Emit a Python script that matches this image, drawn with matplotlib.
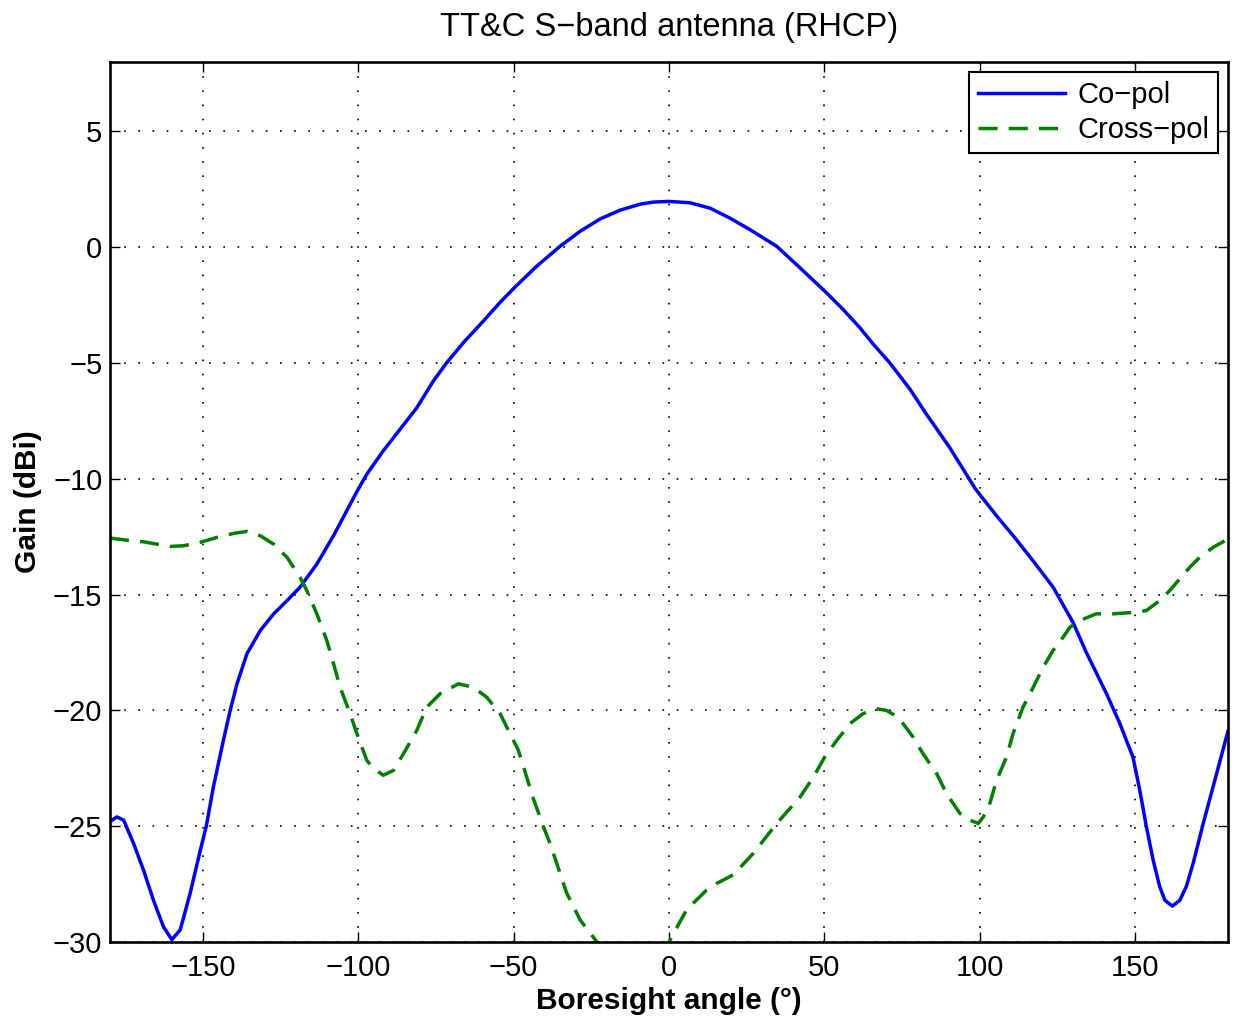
import matplotlib
matplotlib.use("Agg")
import matplotlib.pyplot as plt

# --------------------------------------------------------
# Data
# --------------------------------------------------------

co_angle = [-180, -177.8, -175.6, -172.4, -169.2, -166, -162.8, -160.1, -157.4,
            -154.2, -150.9, -149, -146.7, -143.5, -141.3, -139.1, -135.9,
            -131.6, -127.3, -123, -118.8, -113.4, -108, -100.5, -97.3, -92,
            -86.6, -81.2, -75.9, -71.6, -66.2, -59.8, -54.4, -49.6, -42.6,
            -35.1, -28.6, -22.2, -15.8, -9.3, -5.1, 0, 6.8, 13.2, 19.6, 26.1,
            34.7, 42.2, 50.2, 56.1, 61.5, 65.8, 71.1, 77.6, 82.9, 90.4, 98.5,
            100.5, 105.5, 110.8, 117.3, 123.7, 130.1, 134.4, 140.9, 145.2,
            147.3, 149.4, 151.6, 153.7, 155.9, 158, 159.7, 162.1, 164.5,
            166.6, 168.8, 172, 175.2, 180]
co_gain = [-24.8, -24.6, -24.74, -25.75, -26.9, -28.2, -29.34, -29.9, -29.48,
           -27.9, -26.03, -25.0, -23.3, -21.3, -20.0, -18.85, -17.55,
           -16.55, -15.83, -15.26, -14.68, -13.68, -12.45, -10.55, -9.8, -8.79,
           -7.86, -6.93, -5.78, -4.99, -4.12, -3.19, -2.38, -1.72, -0.82,
           0.04, 0.69, 1.22, 1.6, 1.86, 1.95, 1.98, 1.92, 1.69, 1.26, 0.76,
           0.04, -0.89, -1.9, -2.69, -3.48, -4.19, -4.99, -6.13, -7.21, -8.65, -10.4,
           -10.75, -11.6, -12.45, -13.55, -14.68, -16.2, -17.5, -19.28, -20.57,
           -21.3, -22.01, -23.45, -25.0, -26.46, -27.6, -28.2, -28.45, -28.2,
           -27.6, -26.6, -24.9, -23.3, -20.9]

x_angle = [-180, -174.5, -169.2, -160.6, -156.3, -150.9, -145.6, -140, -135.9,
           -131.6, -127.3, -123, -118.8, -116.6, -113.4, -110.2, -108, -105.9,
           -102.7, -100.5, -97.3, -95.2, -92, -88.7, -85.5, -81.2, -78, -73.7,
           -67.8, -63, -58.7, -54.4, -48.5, -43.7, -40.5, -38.3, -32.9, -28.6,
           -23.3, -17, -10, -4, 0, 5.7, 12.1, 15.4, 20.7, 27.1, 34.7, 42.2,
           46.4, 50.2, 54, 58.3, 62.5, 66.8, 70, 73.8, 78.6, 81.8, 86.2, 89.4,
           93.7, 96.9, 99.6, 101.2, 103.3, 105.5, 108.7, 110.8, 114.0, 117.3,
           120.5, 123.7, 126.9, 129.1, 132.3, 137.6, 143, 150.5, 153.7, 158,
           161.2, 164.5, 167.7, 170.9, 175.2, 180]
x_gain = [-12.56, -12.65, -12.72, -12.92, -12.89, -12.74, -12.53, -12.35, -12.27,
          -12.46, -12.82, -13.39, -14.25, -14.83, -15.83, -16.98, -17.99, -19.0,
          -20.14, -21.0, -22.16, -22.5, -22.8, -22.59, -21.87, -20.86, -19.86, -19.28,
          -18.85, -19.0, -19.43, -20.14, -21.72, -23.8, -25.0, -25.75, -27.9, -29.05,
          -29.98, -30.8, -31.3, -30.9, -30.0, -28.6, -27.76, -27.47, -27.1, -26.18,
          -24.88, -23.74, -22.9, -22.0, -21.3, -20.57, -20.14, -19.93, -20.0, -20.29,
          -21.15, -21.87, -22.73, -23.6, -24.45, -24.74, -24.88, -24.6, -24.02,
          -23.02, -22.01, -21.0, -19.86, -19.0, -18.13, -17.41, -16.84, -16.41,
          -16.12, -15.83, -15.83, -15.76, -15.69, -15.26, -14.83, -14.32, -13.82,
          -13.39, -12.96, -12.6]

# --------------------------------------------------------
# Plot
# --------------------------------------------------------

plt.rcParams["font.family"] = ["Liberation Sans", "DejaVu Sans"]

fig = plt.figure(figsize=(12.36, 10.23), dpi=100)
ax = fig.add_axes([0.089, 0.0792, 0.9045, 0.8602])

ax.plot(co_angle, co_gain, color="#0000ff", lw=2.5, label="Co\u2212pol")
ax.plot(x_angle, x_gain, color="#008000", lw=2.5, ls=(0, (5.5, 3.2)),
        label="Cross\u2212pol")

ax.set_xlim(-180, 180)
ax.set_ylim(-30, 8)
ax.set_xticks([-150, -100, -50, 0, 50, 100, 150])
ax.set_yticks([-30, -25, -20, -15, -10, -5, 0, 5])

ax.grid(True, color="black", ls=(0, (1, 7.5)), lw=1.2)
ax.tick_params(direction="in", labelsize=21, length=7, width=1,
               top=True, right=True)
ax.tick_params(axis="x", pad=8.5)
ax.tick_params(axis="y", pad=5.5)
for s in ax.spines.values():
    s.set_linewidth(1.9)

ax.set_title("TT&C S\u2212band antenna (RHCP)", fontsize=23.5, pad=19)
ax.set_xlabel("Boresight angle (\u00b0)", fontsize=21.5, fontweight="bold",
              labelpad=4)
ax.set_ylabel("Gain (dBi)", fontsize=21.5, fontweight="bold", labelpad=8)

leg = ax.legend(loc="upper right", fontsize=21, fancybox=False,
                edgecolor="black", framealpha=1, handlelength=3,
                borderaxespad=0.35, borderpad=0.3, labelspacing=0.25,
                handletextpad=0.4)
leg.get_frame().set_linewidth(1.5)

fig.savefig("out.png", dpi=100)
plt.close(fig)
